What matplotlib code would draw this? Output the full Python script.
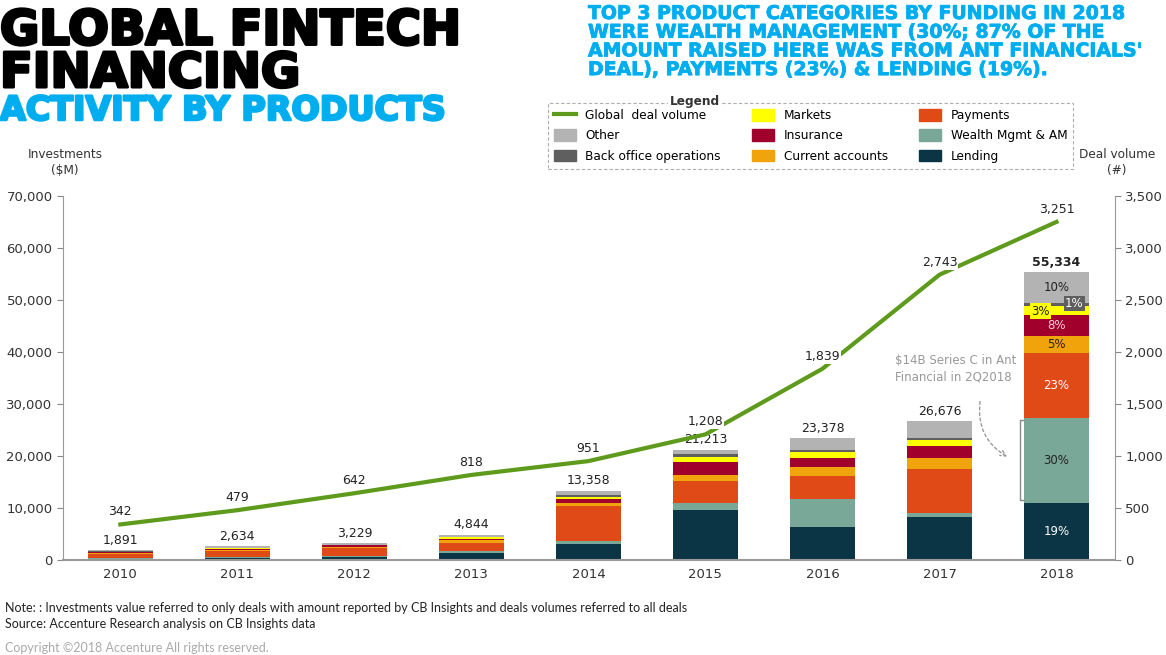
import numpy as np
import matplotlib.pyplot as plt
import matplotlib.patheffects as pe
from matplotlib.lines import Line2D
from matplotlib.patches import Patch

W, H = 1166, 655

years = ['2010', '2011', '2012', '2013', '2014', '2015', '2016', '2017', '2018']
totals = [1891, 2634, 3229, 4844, 13358, 21213, 23378, 26676, 55334]
deal_volume = [342, 479, 642, 818, 951, 1208, 1839, 2743, 3251]

# stacked segments, bottom to top ($M)
lending = [200, 400, 600, 1400, 3070, 9600, 6400, 8250, 10900]
wealth = [100, 200, 150, 250, 580, 1400, 5300, 830, 16500]
payments = [900, 1200, 1500, 1700, 6710, 4200, 4480, 8330, 12500]
current = [200, 200, 200, 450, 520, 1150, 1730, 2230, 3100]
insurance = [100, 100, 350, 300, 770, 2500, 1800, 2300, 4200]
markets = [100, 150, 50, 250, 500, 950, 1150, 1230, 1700]
back_office = [100, 100, 100, 150, 380, 500, 250, 380, 600]
other = [t - (a + b + c + d + e + f + g) for t, a, b, c, d, e, f, g in
         zip(totals, lending, wealth, payments, current, insurance, markets, back_office)]

pct_2018 = ['19%', '30%', '23%', '5%', '8%', '3%', '1%', '10%']

series = [
    ('Lending', lending, '#0b3545'),
    ('Wealth Mgmt & AM', wealth, '#79a899'),
    ('Payments', payments, '#e04a16'),
    ('Current accounts', current, '#f0a30a'),
    ('Insurance', insurance, '#a0002b'),
    ('Markets', markets, '#ffff00'),
    ('Back office operations', back_office, '#5f5f5f'),
    ('Other', other, '#b3b3b3'),
]

plt.rcParams['font.family'] = ['DejaVu Sans']

fig = plt.figure(figsize=(11.66, 6.55), dpi=100)
ax = fig.add_axes([63 / W, 95 / H, (1115 - 63) / W, (560 - 196) / H])

x = np.arange(len(years))
bottom = np.zeros(len(years))
for name, vals, col in series:
    ax.bar(x, vals, 0.56, bottom=bottom, color=col, zorder=2)
    bottom += np.array(vals)

ax.set_xlim(-0.49, 8.5)
ax.set_ylim(0, 70000)
ax.set_yticks(np.arange(0, 70001, 10000))
ax.set_yticklabels([f'{v:,}' for v in range(0, 70001, 10000)])
ax.set_xticks(x)
ax.set_xticklabels(years)
ax.tick_params(axis='both', labelsize=9.5, colors='#888888', labelcolor='#333333', length=4)
ax.tick_params(axis='x', length=0, pad=6)
for s in ['top', 'right']:
    ax.spines[s].set_visible(False)
for s in ['left', 'bottom']:
    ax.spines[s].set_color('#999999')
ax.spines['bottom'].set_linewidth(1.5)

# bar totals
for i, t in enumerate(totals):
    ax.text(i, t + 700, f'{t:,}', ha='center', va='bottom', fontsize=9,
            color='#222222', fontweight='bold' if i == 8 else 'normal', zorder=5)

# 2018 percentage labels
cum = 0
centers = []
for name, vals, col in series:
    centers.append(cum + vals[8] / 2)
    cum += vals[8]
txtcols = ['white', '#222222', 'white', '#222222', '#ffd0dc', '#222222', 'white', '#222222']
for k, (lab, cy, tc) in enumerate(zip(pct_2018, centers, txtcols)):
    if k == 5:
        ax.text(7.86, cy - 200, lab, ha='center', va='center', fontsize=8.5, color=tc,
                bbox=dict(boxstyle='square,pad=0.1', fc='#ffff00', ec='none'), zorder=6)
    elif k == 6:
        ax.text(8.15, cy + 100, lab, ha='center', va='center', fontsize=8.5, color=tc,
                bbox=dict(boxstyle='square,pad=0.1', fc='#5f5f5f', ec='none'), zorder=6)
    else:
        ax.text(8, cy, lab, ha='center', va='center', fontsize=8.5, color=tc, zorder=6)

# annotation for Ant Financial
ax.text(6.62, 39600, '$14B Series C in Ant\nFinancial in 2Q2018', ha='left', va='top',
        fontsize=8.5, color='#999999', linespacing=1.35)
ax.annotate('', xy=(7.6, 19600), xytext=(7.35, 31000),
            arrowprops=dict(arrowstyle='->', color='#999999', linestyle=(0, (2, 2)),
                            connectionstyle='arc3,rad=0.35', lw=1))
ax.plot([7.72, 7.69, 7.69, 7.72], [26900, 26900, 11500, 11500], color='#888888', lw=1)

# deal volume line
ax2 = ax.twinx()
ax2.plot(x, deal_volume, color='#5e9a1c', lw=3, zorder=3)
ax2.set_ylim(0, 3500)
ax2.set_yticks(np.arange(0, 3501, 500))
ax2.set_yticklabels([f'{v:,}' for v in range(0, 3501, 500)])
ax2.tick_params(axis='y', labelsize=9.5, colors='#888888', labelcolor='#333333', length=4)
for s in ['top', 'left', 'bottom']:
    ax2.spines[s].set_visible(False)
ax2.spines['right'].set_color('#999999')
for i, v in enumerate(deal_volume):
    ax2.text(i, v + 120, f'{v:,}', ha='center', va='center', fontsize=9, color='#222222',
             bbox=dict(boxstyle='square,pad=0.08', fc='white', ec='none'), zorder=6)

# axis titles
fig.text(65 / W, 1 - 163 / H, 'Investments\n($M)', ha='center', va='center', fontsize=8.7,
         color='#333333', linespacing=1.3)
fig.text(1117 / W, 1 - 163 / H, 'Deal volume\n(#)', ha='center', va='center', fontsize=8.7,
         color='#333333', linespacing=1.3)

# titles (stroke thickens the glyphs towards a black weight)
fig.text(0.0, 1 - 87 / H, 'GLOBAL FINTECH\nFINANCING', fontsize=34.5, fontweight='bold',
         color='black', va='baseline', ha='left', linespacing=0.88,
         path_effects=[pe.withStroke(linewidth=2.2, foreground='black')])
fig.text(0.0, 1 - 120 / H, 'ACTIVITY BY PRODUCTS', fontsize=24, fontweight='bold',
         color='#00aeef', va='baseline', ha='left',
         path_effects=[pe.withStroke(linewidth=1.8, foreground='#00aeef')])
fig.text(588 / W, 1 - 4 / H,
         "TOP 3 PRODUCT CATEGORIES BY FUNDING IN 2018\nWERE WEALTH MANAGEMENT (30%; 87% OF THE\n"
         "AMOUNT RAISED HERE WAS FROM ANT FINANCIALS'\nDEAL), PAYMENTS (23%) & LENDING (19%).",
         fontsize=13.6, fontweight='bold', color='#00aeef', va='top', ha='left', linespacing=0.98,
         path_effects=[pe.withStroke(linewidth=0.6, foreground='#00aeef')])

# legend
handles = [Line2D([], [], color='#5e9a1c', lw=3),
           Patch(color='#b3b3b3'), Patch(color='#5f5f5f'),
           Patch(color='#ffff00'), Patch(color='#a0002b'), Patch(color='#f0a30a'),
           Patch(color='#e04a16'), Patch(color='#79a899'), Patch(color='#0b3545')]
labels = ['Global  deal volume', 'Other', 'Back office operations',
          'Markets', 'Insurance', 'Current accounts',
          'Payments', 'Wealth Mgmt & AM', 'Lending']
leg = fig.legend(handles, labels, ncol=3, loc='upper left', bbox_to_anchor=(548 / W, 1 - 103 / H),
                 fontsize=8.7, frameon=True, fancybox=False, handlelength=1.8, handleheight=1.1,
                 columnspacing=2.6, labelspacing=0.6, borderpad=0.5, borderaxespad=0)
leg.get_frame().set_linestyle((0, (3, 2)))
leg.get_frame().set_edgecolor('#999999')
leg.get_frame().set_linewidth(0.8)
fig.text(695 / W, 1 - 102 / H, 'Legend', ha='center', va='center', fontsize=8.7,
         fontweight='bold', color='#333333', zorder=10,
         bbox=dict(boxstyle='square,pad=0.15', fc='white', ec='none'))

# footer
foot = dict(fontsize=9, va='center', family=['Lato', 'DejaVu Sans'])
fig.text(5 / W, 1 - 608 / H, 'Note: : Investments value referred to only deals with amount reported by '
         'CB Insights and deals volumes referred to all deals', color='#222222', **foot)
fig.text(5 / W, 1 - 624 / H, 'Source: Accenture Research analysis on CB Insights data',
         color='#222222', **foot)
fig.text(5 / W, 1 - 648 / H, 'Copyright \u00a92018 Accenture All rights reserved.',
         color='#aaaaaa', **foot)

fig.savefig('out.png', dpi=100)
